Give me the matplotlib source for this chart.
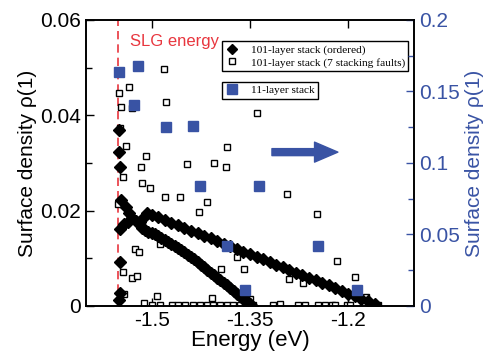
import matplotlib
matplotlib.use('Agg')
import matplotlib.pyplot as plt
from matplotlib.ticker import MultipleLocator, FixedLocator

plt.rcParams['font.family'] = ['Liberation Sans', 'DejaVu Sans']
plt.rcParams['axes.unicode_minus'] = False

blue = '#3953a4'
red = '#e8363e'

# 101-layer stack, ordered (diamonds)
# column at the SLG energy
ord_col_e = [-1.549, -1.550, -1.548, -1.547, -1.548, -1.548, -1.548, -1.549]
ord_col_y = [0.0369, 0.0323, 0.0292, 0.0222, 0.0162, 0.0092, 0.0027, 0.0013]
# small cluster where the two branches start
ord_start_e = [-1.539, -1.5345, -1.530, -1.524, -1.518, -1.513, -1.507, -1.542, -1.536]
ord_start_y = [0.0208, 0.0195, 0.0185, 0.0178, 0.0176, 0.0185, 0.0195, 0.0172, 0.0176]
# upper branch
ord_up_e = [-1.50, -1.49, -1.48, -1.47, -1.46, -1.45, -1.44, -1.43, -1.42, -1.41,
            -1.40, -1.39, -1.38, -1.37, -1.36, -1.35, -1.34, -1.33, -1.32, -1.31,
            -1.30, -1.29, -1.28, -1.27, -1.26, -1.25, -1.24, -1.23, -1.22, -1.21,
            -1.20, -1.19, -1.18, -1.17, -1.16]
ord_up_y = [0.0191, 0.0186, 0.0180, 0.0175, 0.0169, 0.0164, 0.0158, 0.0153, 0.0147, 0.0142,
            0.0136, 0.0131, 0.0125, 0.0120, 0.0114, 0.0109, 0.0103, 0.0098, 0.0092, 0.0087,
            0.0081, 0.0076, 0.0070, 0.0065, 0.0059, 0.0054, 0.0048, 0.0043, 0.0037, 0.0032,
            0.0026, 0.0021, 0.0015, 0.0010, 0.0004]
# lower branch
ord_lo_e = [-1.515, -1.510, -1.505, -1.500, -1.495, -1.490, -1.485, -1.480, -1.475, -1.470,
            -1.465, -1.460, -1.455, -1.450, -1.445, -1.440, -1.435, -1.430, -1.425, -1.420,
            -1.415, -1.410, -1.405, -1.400, -1.395, -1.390, -1.385, -1.380, -1.375, -1.370,
            -1.365, -1.360, -1.355, -1.350, -1.347]
ord_lo_y = [0.0163, 0.0159, 0.0156, 0.0153, 0.0150, 0.0146, 0.0143, 0.0139, 0.0135, 0.0130,
            0.0126, 0.0122, 0.0117, 0.0113, 0.0108, 0.0103, 0.0098, 0.0092, 0.0087, 0.0081,
            0.0076, 0.0070, 0.0065, 0.0059, 0.0054, 0.0048, 0.0043, 0.0037, 0.0032, 0.0026,
            0.0021, 0.0015, 0.0010, 0.0004, 0.0001]

# 101-layer stack with 7 stacking faults (open squares)
sf_e = [-1.5512, -1.5497, -1.5482, -1.5466, -1.5436, -1.5436, -1.5421, -1.5390, -1.5345, -1.5299,
        -1.5299, -1.5253, -1.5223, -1.5192, -1.5162, -1.5146, -1.5085, -1.5024, -1.4918, -1.4872,
        -1.4811, -1.4796, -1.4780, -1.4567, -1.4460, -1.4277, -1.4155, -1.4079, -1.4049, -1.3942,
        -1.3866, -1.3851, -1.3698, -1.3591, -1.3500, -1.3393, -1.2936, -1.2905, -1.2692, -1.2479,
        -1.2174, -1.1899, -1.1732]
sf_y = [0.0214, 0.0447, 0.0373, 0.0417, 0.0271, 0.0071, 0.0025, 0.0336, 0.0459, 0.0415,
        0.0059, 0.0120, 0.0063, 0.0113, 0.0292, 0.0258, 0.0315, 0.0248, 0.0021, 0.0130,
        0.0497, 0.0229, 0.0428, 0.0229, 0.0298, 0.0197, 0.0218, 0.0017, 0.0300, 0.0078,
        0.0292, 0.0334, 0.0103, 0.0078, 0.0015, 0.0405, 0.0235, 0.0057, 0.0048, 0.0193,
        0.0094, 0.0061, 0.0019]
sf0_e = [-1.5116, -1.4994, -1.4872, -1.4689, -1.4598, -1.4491, -1.4369, -1.4262, -1.4155, -1.4064,
         -1.3957, -1.3851, -1.3759, -1.3652, -1.3546, -1.3454, -1.3149, -1.3043, -1.2768, -1.2662,
         -1.2463, -1.2357, -1.2250, -1.2204, -1.2021, -1.1976, -1.1625, -1.1549]
sf0_y = [0.0006, 0.0002, 0.0002, 0.0002, 0.0002, 0.0002, 0.0002, 0.0002, 0.0002, 0.0002,
         0.0002, 0.0002, 0.0002, 0.0002, 0.0002, 0.0002, 0.0002, 0.0004, 0.0002, 0.0002,
         0.0002, 0.0002, 0.0002, 0.0002, 0.0002, 0.0002, 0.0002, 0.0002]

# 11-layer stack (right axis)
l11_e = [-1.5497, -1.5268, -1.5207, -1.4780, -1.4369, -1.4262, -1.3850, -1.3576, -1.3363, -1.2463, -1.1869]
l11_y = [0.1636, 0.1406, 0.1678, 0.1252, 0.1259, 0.0839, 0.0420, 0.0112, 0.0839, 0.0420, 0.0112]

slg_energy = -1.551

fig = plt.figure(figsize=(4.88, 3.52), dpi=100)
ax = fig.add_axes([0.1762, 0.1307, 0.6721, 0.8125])
ax2 = ax.twinx()

ax.axvline(slg_energy, color=red, ls=(0, (5, 3)), lw=1.2, zorder=1)
ax.text(-1.533, 0.0554, 'SLG energy', color=red, fontsize=12, va='center', ha='left')

sq_kw = dict(ls='none', marker='s', ms=4.2, mfc='white', mec='black', mew=1.0, zorder=2)
ax.plot(sf_e, sf_y, **sq_kw)
ax.plot(sf0_e, sf0_y, **sq_kw)

dia_kw = dict(ls='none', marker='D', ms=5.8, color='black', mec='black', zorder=3)
ax.plot(ord_col_e, ord_col_y, **dia_kw)
ax.plot(ord_start_e, ord_start_y, **dia_kw)
ax.plot(ord_up_e, ord_up_y, **dia_kw)
ax.plot(ord_lo_e, ord_lo_y, **dia_kw)

ax2.plot(l11_e, l11_y, ls='none', marker='s', ms=7.5, color=blue, mec=blue)

ax.set_xlim(-1.6, -1.1)
ax.set_ylim(0, 0.06)
ax2.set_ylim(0, 0.2)

ax.xaxis.set_major_locator(FixedLocator([-1.5, -1.35, -1.2]))
ax.set_xticklabels(['-1.5', '-1.35', '-1.2'])
ax.yaxis.set_major_locator(FixedLocator([0, 0.02, 0.04, 0.06]))
ax.set_yticklabels(['0', '0.02', '0.04', '0.06'])
ax.yaxis.set_minor_locator(MultipleLocator(0.01))
ax2.yaxis.set_major_locator(FixedLocator([0, 0.05, 0.1, 0.15, 0.2]))
ax2.set_yticklabels(['0', '0.05', '0.1', '0.15', '0.2'])
ax2.yaxis.set_minor_locator(MultipleLocator(0.025))

ax.tick_params(axis='both', which='both', direction='in', top=True, labelsize=15, width=1)
ax.tick_params(which='major', length=6)
ax.tick_params(which='minor', length=4)
ax.tick_params(axis='y', right=False)
ax2.tick_params(axis='y', which='both', direction='in', colors=blue, labelsize=15, width=1)
ax2.tick_params(which='major', length=6)
ax2.tick_params(which='minor', length=4)
for s in ax.spines.values():
    s.set_linewidth(1.2)
for s in ax2.spines.values():
    s.set_linewidth(1.2)

ax.set_xlabel('Energy (eV)', fontsize=16, labelpad=0)
ax.set_ylabel('Surface density \u03c1(1)', fontsize=15, labelpad=2)
ax2.set_ylabel('Surface density \u03c1(1)', fontsize=15, color=blue, labelpad=4)

# arrow pointing to the right axis
ax.annotate('', xy=(0.768, 0.538), xytext=(0.567, 0.538), xycoords='axes fraction',
            arrowprops=dict(arrowstyle='simple,head_length=1.4,head_width=1.2,tail_width=0.42',
                            color=blue, mutation_scale=12, shrinkA=0, shrinkB=0))

leg_font = {'family': 'Liberation Serif', 'size': 8.2}
h1, = ax.plot([], [], ls='none', marker='D', ms=5.2, color='black')
h2, = ax.plot([], [], **sq_kw)
leg1 = ax.legend([h1, h2], ['101-layer stack (ordered)', '101-layer stack (7 stacking faults)'],
                 loc='upper left', bbox_to_anchor=(0.415, 0.925), prop=leg_font,
                 fancybox=False, edgecolor='black', framealpha=1, handlelength=1.2,
                 handletextpad=1.0, borderpad=0.3, labelspacing=0.2, borderaxespad=0)
leg1.get_frame().set_linewidth(1.0)
h3, = ax2.plot([], [], ls='none', marker='s', ms=7.5, color=blue, mec=blue)
leg2 = ax2.legend([h3], ['11-layer stack'], loc='upper left', bbox_to_anchor=(0.415, 0.783),
                  prop=leg_font, fancybox=False, edgecolor='black', framealpha=1,
                  handlelength=1.2, handletextpad=1.0, borderpad=0.3, borderaxespad=0)
leg2.get_frame().set_linewidth(1.0)

fig.savefig('out.png', dpi=100)
